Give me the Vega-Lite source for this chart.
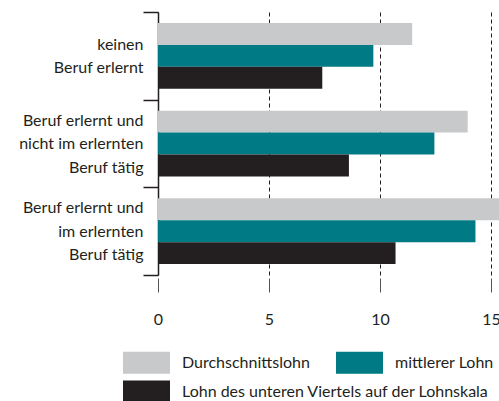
{
  "$schema": "https://vega.github.io/schema/vega-lite/v6.json",
  "width": 333,
  "height": 263,
  "autosize": {"type": "none"},
  "padding": {"left": 158, "top": 12, "right": 8, "bottom": 126},
  "background": "white",
  "config": {"font": "Lato", "view": {"stroke": null}},
  "data": {
    "values": [
      {"group": "keinen|Beruf erlernt", "series": "Durchschnittslohn", "value": 11.45},
      {"group": "keinen|Beruf erlernt", "series": "mittlerer Lohn", "value": 9.7},
      {"group": "keinen|Beruf erlernt", "series": "Lohn des unteren Viertels auf der Lohnskala", "value": 7.4},
      {"group": "Beruf erlernt und|nicht im erlernten|Beruf tätig", "series": "Durchschnittslohn", "value": 13.95},
      {"group": "Beruf erlernt und|nicht im erlernten|Beruf tätig", "series": "mittlerer Lohn", "value": 12.45},
      {"group": "Beruf erlernt und|nicht im erlernten|Beruf tätig", "series": "Lohn des unteren Viertels auf der Lohnskala", "value": 8.6},
      {"group": "Beruf erlernt und|im erlernten|Beruf tätig", "series": "Durchschnittslohn", "value": 15.5},
      {"group": "Beruf erlernt und|im erlernten|Beruf tätig", "series": "mittlerer Lohn", "value": 14.3},
      {"group": "Beruf erlernt und|im erlernten|Beruf tätig", "series": "Lohn des unteren Viertels auf der Lohnskala", "value": 10.7}
    ]
  },
  "encoding": {
    "y": {
      "field": "group", "type": "nominal", "sort": null,
      "scale": {"paddingInner": 0, "paddingOuter": 0},
      "axis": {
        "title": null, "domainColor": "#231f20", "domainWidth": 1.5,
        "tickColor": "#231f20", "tickWidth": 1.5, "tickSize": 15, "tickBand": "extent",
        "labelPadding": 0, "labelFontSize": 16, "labelColor": "#231f20",
        "labelExpr": "length(split(datum.label, '|')) > 2 ? [split(datum.label, '|')[0], '\u200b', split(datum.label, '|')[1], '\u200b', split(datum.label, '|')[2]] : ['\u200b', split(datum.label, '|')[0], '\u200b', split(datum.label, '|')[1]]",
        "labelLineHeight": 11.75, "labelLimit": 200,
        "labelOffset": -23.5
      }
    },
    "x": {
      "field": "value", "type": "quantitative",
      "scale": {"domain": [0, 15], "nice": false},
      "axis": {
        "title": null, "values": [0, 5, 10, 15], "domain": false,
        "grid": true, "gridDash": [4, 3], "gridColor": "#231f20", "gridWidth": 1,
        "tickSize": 14, "tickColor": "#555555", "tickWidth": 1, "offset": 3,
        "labelFontSize": 16, "labelColor": "#231f20", "labelPadding": 19,
        "labelFlush": false, "labelOverlap": false
      }
    },
    "yOffset": {
      "field": "series", "type": "nominal",
      "scale": {"domain": ["Durchschnittslohn", "mittlerer Lohn", "Lohn des unteren Viertels auf der Lohnskala"], "paddingInner": 0, "paddingOuter": 0.5}
    }
  },
  "layer": [
    {
      "transform": [{"filter": "datum.series != 'Lohn des unteren Viertels auf der Lohnskala'"}],
      "mark": {"type": "bar"},
      "encoding": {
        "color": {
          "field": "series", "type": "nominal",
          "scale": {"domain": ["Durchschnittslohn", "mittlerer Lohn"], "range": ["#c8c9cb", "#007a85"]},
          "legend": {
            "title": null, "orient": "none", "legendX": -35, "legendY": 327,
            "direction": "horizontal",
            "symbolType": "M-1,-0.47H1V0.47H-1Z", "symbolSize": 2209, "symbolStrokeWidth": 0,
            "labelFontSize": 16, "labelColor": "#231f20", "labelOffset": 12,
            "columnPadding": 26
          }
        }
      }
    },
    {
      "transform": [{"filter": "datum.series == 'Lohn des unteren Viertels auf der Lohnskala'"}],
      "mark": {"type": "bar"},
      "encoding": {
        "fill": {
          "field": "series", "type": "nominal",
          "scale": {"domain": ["Lohn des unteren Viertels auf der Lohnskala"], "range": ["#231f20"]},
          "legend": {
            "title": null, "orient": "none", "legendX": -35, "legendY": 356,
            "direction": "horizontal",
            "symbolType": "M-1,-0.47H1V0.47H-1Z", "symbolSize": 2209, "symbolStrokeWidth": 0,
            "labelFontSize": 16, "labelColor": "#231f20", "labelOffset": 12,
            "labelLimit": 400
          }
        }
      }
    }
  ]
}
